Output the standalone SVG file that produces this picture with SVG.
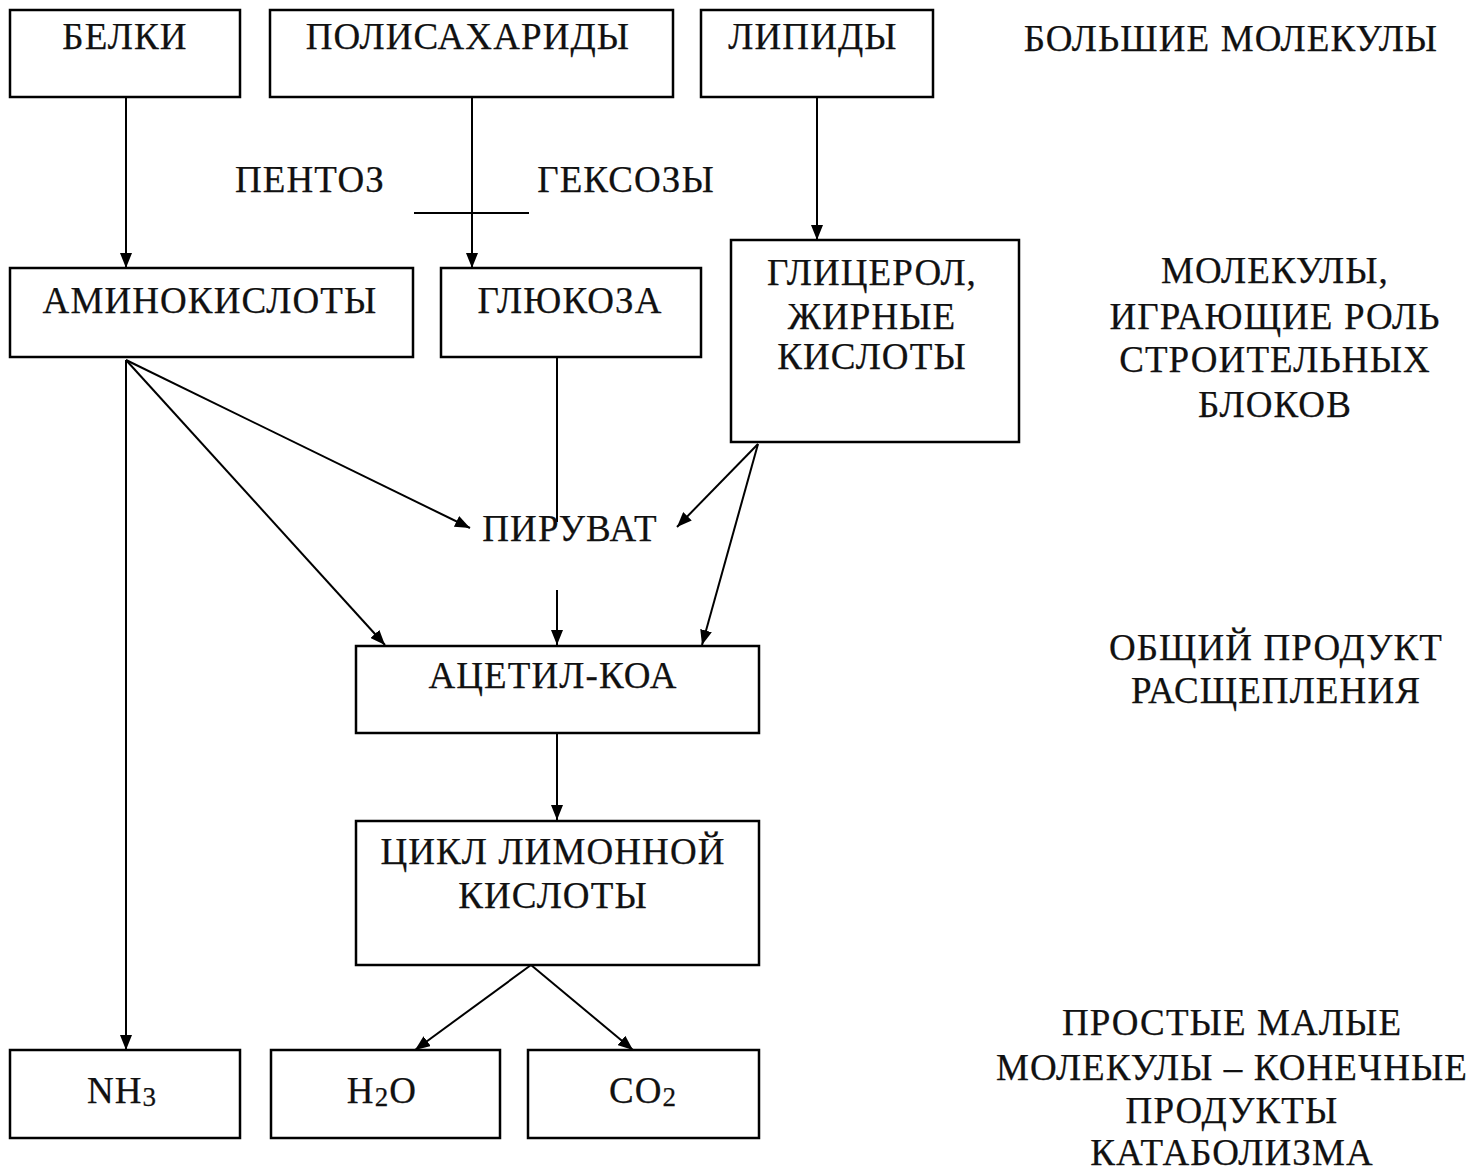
<svg xmlns="http://www.w3.org/2000/svg" width="1479" height="1174" viewBox="0 0 1479 1174">
<style>
.box{fill:#fff;stroke:#000;stroke-width:2.5}
.t{font-family:"Liberation Serif","Times New Roman",serif;font-size:37px;letter-spacing:1.1px;fill:#111;text-anchor:middle;stroke:#111;stroke-width:0.25}
.c{fill:none;stroke:#000;stroke-width:2}
.sub{font-size:27px}
</style>
<defs>
<marker id="ah" markerUnits="userSpaceOnUse" markerWidth="16" markerHeight="12" refX="15" refY="6" orient="auto">
<path d="M0,0 L15,6 L0,12 z" fill="#000"/>
</marker>
</defs>
<rect width="1479" height="1174" fill="#fff"/>
<g id="connectors">
<line class="c" x1="126" y1="97" x2="126" y2="268" marker-end="url(#ah)"/>
<line class="c" x1="472" y1="97" x2="472" y2="268" marker-end="url(#ah)"/>
<line class="c" x1="817" y1="97" x2="817" y2="240" marker-end="url(#ah)"/>
<line class="c" x1="414" y1="213" x2="529" y2="213"/>
<line class="c" x1="557" y1="357" x2="557" y2="522"/>
<line class="c" x1="126" y1="360" x2="470" y2="528" marker-end="url(#ah)"/>
<line class="c" x1="126" y1="360" x2="385" y2="645" marker-end="url(#ah)"/>
<line class="c" x1="126" y1="360" x2="126" y2="1050" marker-end="url(#ah)"/>
<line class="c" x1="758" y1="444" x2="677" y2="527" marker-end="url(#ah)"/>
<line class="c" x1="758" y1="444" x2="702" y2="645" marker-end="url(#ah)"/>
<line class="c" x1="557" y1="590" x2="557" y2="645" marker-end="url(#ah)"/>
<line class="c" x1="557" y1="733" x2="557" y2="820" marker-end="url(#ah)"/>
<line class="c" x1="531" y1="965" x2="415" y2="1050" marker-end="url(#ah)"/>
<line class="c" x1="531" y1="965" x2="633" y2="1050" marker-end="url(#ah)"/>
</g>
<g id="belki"><rect class="box" x="10" y="10" width="230" height="87"/><text class="t" x="125" y="49">БЕЛКИ</text></g>
<g id="polisaharidy"><rect class="box" x="270" y="10" width="403" height="87"/><text class="t" x="468" y="49">ПОЛИСАХАРИДЫ</text></g>
<g id="lipidy"><rect class="box" x="701" y="10" width="232" height="87"/><text class="t" x="813" y="49">ЛИПИДЫ</text></g>
<g id="label-big"><text class="t" x="1231" y="51">БОЛЬШИЕ МОЛЕКУЛЫ</text></g>
<g id="pentoz"><text class="t" x="310" y="192">ПЕНТОЗ</text></g>
<g id="geksozy"><text class="t" x="626" y="192">ГЕКСОЗЫ</text></g>
<g id="aminokisloty"><rect class="box" x="10" y="268" width="403" height="89"/><text class="t" x="210" y="313">АМИНОКИСЛОТЫ</text></g>
<g id="glyukoza"><rect class="box" x="441" y="268" width="260" height="89"/><text class="t" x="570" y="313">ГЛЮКОЗА</text></g>
<g id="glicerol"><rect class="box" x="731" y="240" width="288" height="202"/><text class="t" x="872" y="285">ГЛИЦЕРОЛ,</text><text class="t" x="872" y="329">ЖИРНЫЕ</text><text class="t" x="872" y="369">КИСЛОТЫ</text></g>
<g id="label-blocks"><text class="t" x="1275" y="283">МОЛЕКУЛЫ,</text><text class="t" x="1275" y="329">ИГРАЮЩИЕ РОЛЬ</text><text class="t" x="1275" y="372">СТРОИТЕЛЬНЫХ</text><text class="t" x="1275" y="417">БЛОКОВ</text></g>
<g id="piruvat"><text class="t" x="570" y="541">ПИРУВАТ</text></g>
<g id="acetil"><rect class="box" x="356" y="646" width="403" height="87"/><text class="t" x="553" y="688">АЦЕТИЛ-КОА</text></g>
<g id="label-common"><text class="t" x="1276" y="660">ОБЩИЙ ПРОДУКТ</text><text class="t" x="1276" y="703">РАСЩЕПЛЕНИЯ</text></g>
<g id="cikl"><rect class="box" x="356" y="821" width="403" height="144"/><text class="t" x="553" y="864">ЦИКЛ ЛИМОННОЙ</text><text class="t" x="553" y="908">КИСЛОТЫ</text></g>
<g id="nh3"><rect class="box" x="10" y="1050" width="230" height="88"/><text class="t" x="122" y="1103">NH<tspan class="sub" dy="3">3</tspan></text></g>
<g id="h2o"><rect class="box" x="271" y="1050" width="229" height="88"/><text class="t" x="382" y="1103">H<tspan class="sub" dy="3">2</tspan><tspan dy="-3">O</tspan></text></g>
<g id="co2"><rect class="box" x="528" y="1050" width="231" height="88"/><text class="t" x="643" y="1103">CO<tspan class="sub" dy="3">2</tspan></text></g>
<g id="label-small"><text class="t" x="1232" y="1035">ПРОСТЫЕ МАЛЫЕ</text><text class="t" x="1232" y="1080">МОЛЕКУЛЫ – КОНЕЧНЫЕ</text><text class="t" x="1232" y="1123">ПРОДУКТЫ</text><text class="t" x="1232" y="1165">КАТАБОЛИЗМА</text></g>
</svg>
